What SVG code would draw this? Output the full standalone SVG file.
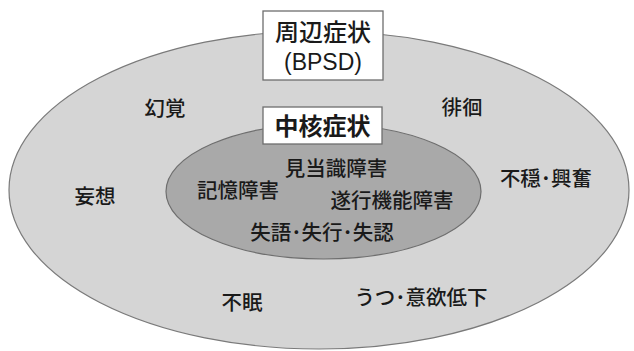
<svg xmlns="http://www.w3.org/2000/svg" width="634" height="351" viewBox="0 0 634 351">
<style>
.lbl{font-family:"Noto Sans CJK JP","Noto Sans CJK SC",sans-serif;font-size:20.5px;font-weight:500;fill:#1a1a1a;text-anchor:middle}
.ttl{font-family:"Noto Sans CJK JP","Noto Sans CJK SC",sans-serif;font-size:24px;font-weight:500;fill:#1a1a1a;text-anchor:middle}
.box{fill:#ffffff;stroke:#6e6e6e;stroke-width:1.3}
</style>
<rect width="634" height="351" fill="#ffffff"/>
<g id="outer">
<ellipse cx="319" cy="190" rx="310" ry="159" fill="#d5d5d5" stroke="#7a7a7a" stroke-width="1.2"/>
</g>
<g id="inner">
<ellipse cx="323.5" cy="191.5" rx="157.5" ry="67.5" fill="#a9a9a9" stroke="#6e6e6e" stroke-width="1.2"/>
</g>
<g id="bpsd-title">
<rect class="box" x="263" y="11" width="120" height="69"/>
<text class="ttl" x="323" y="41">周辺症状</text>
<text x="323" y="70" style="font-family:'Liberation Sans',Arial,sans-serif;font-size:23px;fill:#1a1a1a;text-anchor:middle">(BPSD)</text>
</g>
<g id="core-title">
<rect class="box" x="263" y="107" width="119" height="37"/>
<text class="ttl" x="322.5" y="135" style="font-weight:700">中核症状</text>
</g>
<g id="n-genkaku"><text class="lbl" x="165" y="116">幻覚</text></g>
<g id="n-haikai"><text class="lbl" x="462" y="115">徘徊</text></g>
<g id="n-mousou"><text class="lbl" x="95" y="204">妄想</text></g>
<g id="n-fuon"><text class="lbl" x="546" y="186">不穏･興奮</text></g>
<g id="n-fumin"><text class="lbl" x="242" y="310">不眠</text></g>
<g id="n-utsu"><text class="lbl" x="421" y="305">うつ･意欲低下</text></g>
<g id="n-kentoushiki"><text class="lbl" x="336" y="176">見当識障害</text></g>
<g id="n-kioku"><text class="lbl" x="238" y="198">記憶障害</text></g>
<g id="n-suikou"><text class="lbl" x="392" y="208">遂行機能障害</text></g>
<g id="n-shitsugo"><text class="lbl" x="322" y="240">失語･失行･失認</text></g>
<g id="connectors"></g>
</svg>
